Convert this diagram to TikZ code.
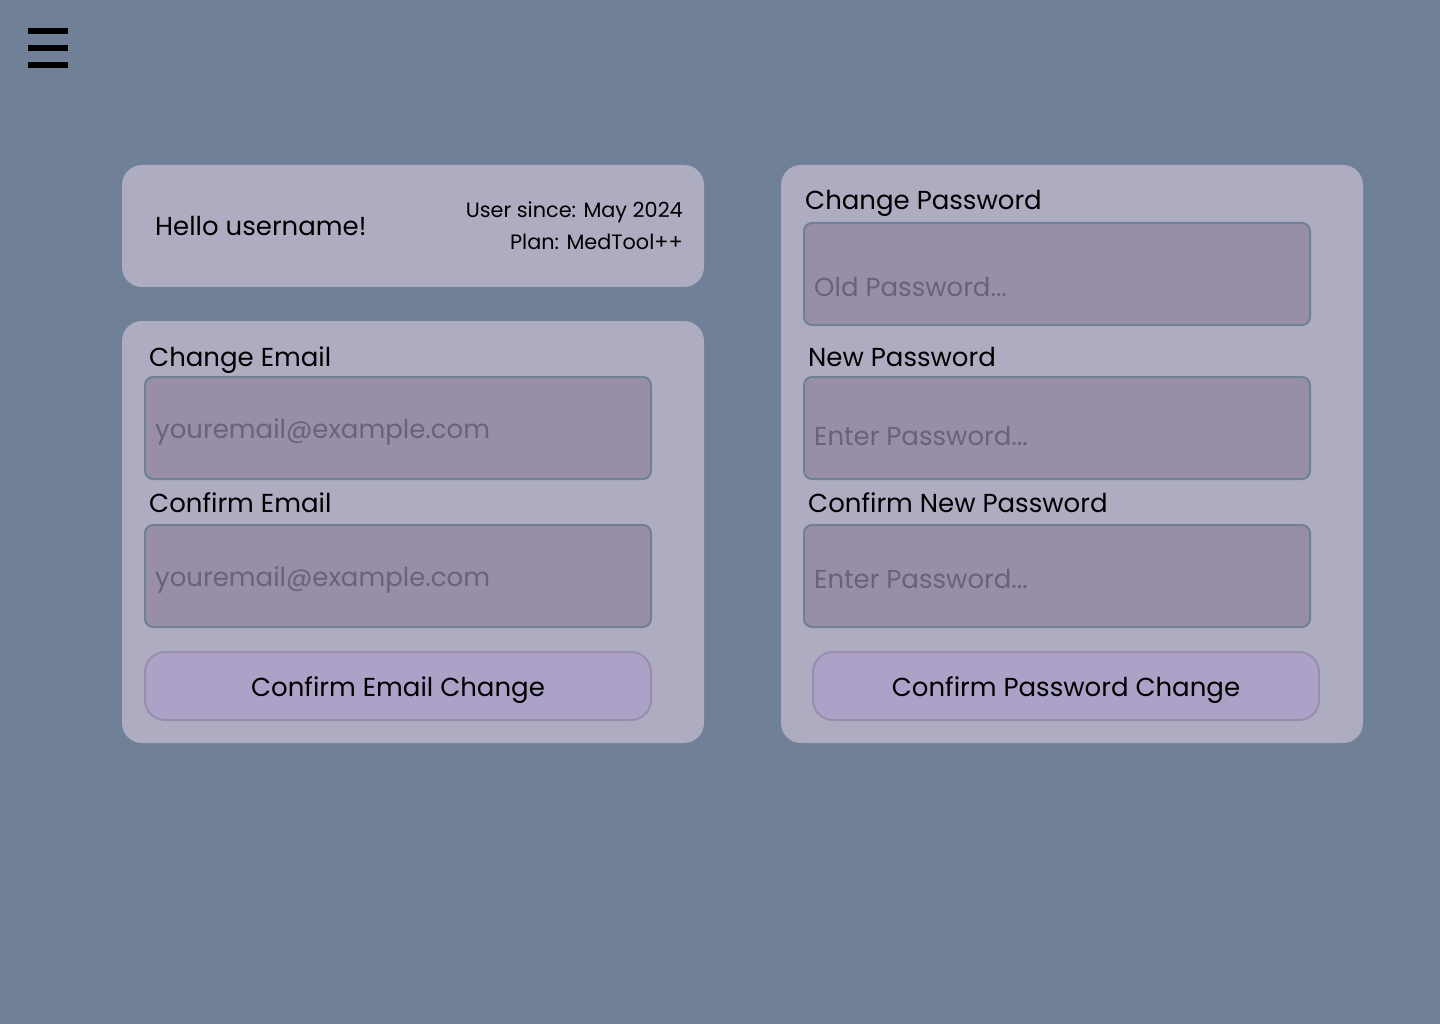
\documentclass[tikz,border=0pt]{standalone}
\usepackage{fontspec}
\setmainfont{Poppins}
\definecolor{bgc}{RGB}{112,128,150}
\definecolor{cardc}{RGB}{174,172,193}
\definecolor{inputc}{RGB}{152,142,168}
\definecolor{btnc}{RGB}{172,162,200}
\definecolor{btnborder}{RGB}{152,142,172}
\definecolor{phc}{RGB}{104,98,124}
\tikzset{
  card/.style={fill=cardc, rounded corners=20pt},
  field/.style={fill=inputc, draw=bgc, line width=2pt, rounded corners=8pt},
  btn/.style={fill=btnc, draw=btnborder, line width=2pt, rounded corners=20pt},
  lbl/.style={anchor=base west, inner sep=0pt, font=\fontsize{26}{30}\selectfont, text=black},
  ph/.style={anchor=base west, inner sep=0pt, font=\fontsize{26}{30}\selectfont, text=phc},
  btntext/.style={anchor=base, inner sep=0pt, font=\fontsize{26}{30}\selectfont, text=black},
  small/.style={anchor=base east, inner sep=0pt, font=\fontsize{20.8}{24}\selectfont, text=black},
  bar/.style={fill=black},
}
\begin{document}
\begin{tikzpicture}[x=1pt,y=-1pt]
\fill[bgc] (0,0) rectangle (1440,1024);
\useasboundingbox (0,0) rectangle (1440,1024);
% hamburger
\fill[bar] (28,28) rectangle (68,34);
\fill[bar] (28,45) rectangle (68,51);
\fill[bar] (28,62) rectangle (68,68);
% cards
\fill[card] (122,165) rectangle (704,287);
\fill[card] (122,321) rectangle (704,743);
\fill[card] (781,165) rectangle (1363,743);
% header card
\node[lbl] (hello) at (155,236) {Hello username!};
\node[small] (since) at (683,218) {User since: May 2024};
\node[small] (plan) at (683,250) {Plan: MedTool++};
% email card
\node[lbl] (chemail) at (149,366) {Change Email};
\draw[field] (145,377) rectangle (651,479);
\node[ph] (em1) at (155,438) {youremail@example.com};
\node[lbl] (cfemail) at (149,512) {Confirm Email};
\draw[field] (145,525) rectangle (651,627);
\node[ph] (em2) at (155,586) {youremail@example.com};
\draw[btn] (145,652) rectangle (651,720);
\node[btntext] (b1) at (398,696) {Confirm Email Change};
% password card
\node[lbl] (chpw) at (805,210) {Change Password};
\draw[field] (804,223) rectangle (1310,325);
\node[ph] (pw1) at (814,297) {Old Password...};
\node[lbl] (newpw) at (808,366) {New Password};
\draw[field] (804,377) rectangle (1310,479);
\node[ph] (pw2) at (814,445) {Enter Password...};
\node[lbl] (cfpw) at (808,512) {Confirm New Password};
\draw[field] (804,525) rectangle (1310,627);
\node[ph] (pw3) at (814,588) {Enter Password...};
\draw[btn] (813,652) rectangle (1319,720);
\node[btntext] (b2) at (1066,696) {Confirm Password Change};
\end{tikzpicture}
\end{document}
